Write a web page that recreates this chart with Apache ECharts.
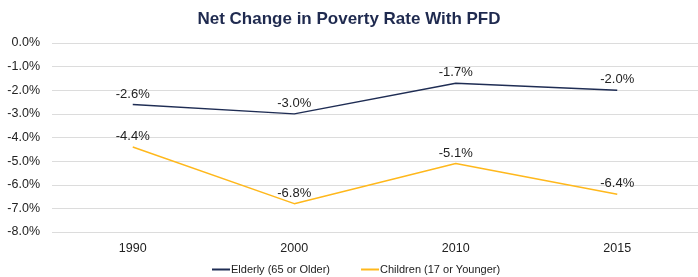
<!DOCTYPE html>
<html>
<head>
<meta charset="utf-8">
<script src="https://cdn.jsdelivr.net/npm/echarts@6/dist/echarts.min.js"></script>
<style>
  html, body { margin: 0; padding: 0; background: #fff; }
  #chart { width: 698px; height: 277px; }
</style>
</head>
<body>
<div id="chart"></div>
<script>
const years = ['1990', '2000', '2010', '2015']
const elderly = [-2.6, -3.0, -1.7, -2.0]
const children = [-4.4, -6.8, -5.1, -6.4]

const myChart = echarts.init(document.getElementById('chart'))

const labelStyle = {
  show: true,
  position: 'top',
  distance: 4,
  fontFamily: 'Liberation Sans, Arial, sans-serif',
  fontSize: 13,
  color: '#222',
  formatter: (p) => p.value.toFixed(1) + '%'
}

const option = {
  animation: false,
  title: {
    left: 'center',
    top: 6,
    text: 'Net Change in Poverty Rate With PFD',
    textStyle: {
      color: '#1f2a4f',
      fontFamily: 'Liberation Sans, Arial, sans-serif',
      fontSize: 17,
      fontWeight: 'bold'
    }
  },
  legend: {
    bottom: -3,
    left: 207,
    itemWidth: 18,
    itemHeight: 2,
    itemGap: 31,
    icon: 'rect',
    textStyle: {
      color: '#222',
      fontFamily: 'Liberation Sans, Arial, sans-serif',
      fontSize: 11,
      padding: [0, 0, 0, -4]
    },
    data: ['Elderly (65 or Older)', 'Children (17 or Younger)']
  },
  grid: {
    left: 52,
    right: -4,
    top: 43,
    bottom: 45
  },
  xAxis: {
    type: 'category',
    data: years,
    axisLine: { show: false },
    axisTick: { show: false },
    axisLabel: {
      margin: 10,
      color: '#222',
      fontFamily: 'Liberation Sans, Arial, sans-serif',
      fontSize: 12.5
    }
  },
  yAxis: {
    type: 'value',
    min: -8,
    max: 0,
    interval: 1,
    axisLabel: {
      margin: 12,
      color: '#222',
      fontFamily: 'Liberation Sans, Arial, sans-serif',
      fontSize: 12.5,
      formatter: (v) => v.toFixed(1) + '%'
    },
    splitLine: {
      lineStyle: { color: '#dcdcdc', width: 1 }
    }
  },
  series: [
    {
      name: 'Elderly (65 or Older)',
      type: 'line',
      data: elderly,
      symbol: 'circle',
      symbolSize: 0,
      color: '#1f2d54',
      lineStyle: { width: 1.5, color: '#1f2d54' },
      label: labelStyle
    },
    {
      name: 'Children (17 or Younger)',
      type: 'line',
      data: children,
      symbol: 'circle',
      symbolSize: 0,
      color: '#ffb81c',
      lineStyle: { width: 1.5, color: '#ffb81c' },
      label: labelStyle
    }
  ]
}
myChart.setOption(option)
</script>
</body>
</html>
